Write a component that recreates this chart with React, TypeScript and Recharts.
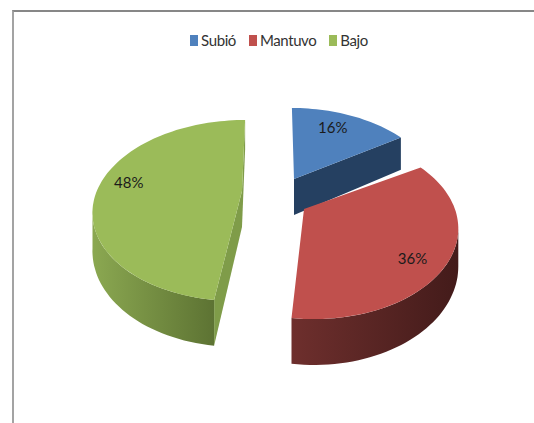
import React from "react";
import { PieChart, Pie, Legend } from "recharts";

const categories = ["Subió", "Mantuvo", "Bajo"];
const values = [16, 36, 48];
const colors = ["#4F81BD", "#C0504D", "#9BBB59"];

// explosion and 3D look of every slice, relative to the pie centre
const sliceLook = [
    { dx: 23, dy: -12, scaleX: 0.94, shear: 0.03, apexDx: 0, side: "#254061", wall: ["#254061", "#254061"], faces: ["end"], labelDx: -6, labelDy: -1 },
    { dx: 43, dy: 18, scaleX: 0.927, shear: 0, apexDx: -10, side: "#4a1f1e", wall: ["#6e2f2d", "#431b1a"], faces: [], labelDx: -2, labelDy: 10 },
    { dx: -29, dy: 0, scaleX: 0.955, shear: -0.044, apexDx: 0, side: "#7f9c49", wall: ["#8ba851", "#5d7333"], faces: ["start", "end"], labelDx: -3, labelDy: -5 },
];

const chartData = categories.map((name, i) => ({ name, value: values[i], fill: colors[i] }));

const PERSPECTIVE = 0.2157;
const Y_RATIO = 0.568;
const DEPTH = 36;

// theta is clockwise from the top, in degrees
const project = (cx: number, cy: number, radius: number, look: any, theta: number, r = 1) => {
    const rad = (theta * Math.PI) / 180;
    const u = Math.sin(rad) * r;
    const v = Math.cos(rad) * r;
    const den = 1 + PERSPECTIVE * v;
    const y = (radius * Y_RATIO * -v) / den;
    return {
        x: cx + look.dx + (radius * look.scaleX * u) / den + look.shear * y,
        y: cy + look.dy + y,
        d: DEPTH / den,
    };
};

const arcPoints = (cx: number, cy: number, radius: number, look: any, from: number, to: number) => {
    const pts = [];
    const steps = Math.max(2, Math.ceil(Math.abs(to - from) / 2));
    for (let i = 0; i <= steps; i++) {
        pts.push(project(cx, cy, radius, look, from + ((to - from) * i) / steps));
    }
    return pts;
};

const toPath = (pts: { x: number; y: number }[]) =>
    "M" + pts.map((p) => `${p.x.toFixed(1)},${p.y.toFixed(1)}`).join("L") + "Z";

const Slice3D = (props: any) => {
    const { cx, cy, outerRadius, startAngle, endAngle, fill, name } = props;
    const i = categories.indexOf(name);
    const look = sliceLook[i];
    const from = 90 - startAngle;
    const to = 90 - endAngle;

    const apex = { x: cx + look.dx + look.apexDx, y: cy + look.dy, d: DEPTH };
    const arc = arcPoints(cx, cy, outerRadius, look, from, to);

    // outer wall only between the two side extremes of the ellipse
    const wallFrom = Math.max(from, 102.5);
    const wallTo = Math.min(to, 257.5);
    const wallArc = wallTo > wallFrom ? arcPoints(cx, cy, outerRadius, look, wallFrom, wallTo) : [];
    const wallPath = wallArc.length
        ? toPath([...wallArc, ...wallArc.slice().reverse().map((p) => ({ x: p.x, y: p.y + p.d }))])
        : null;
    const xs = wallArc.map((p) => p.x);
    const gradId = `wall-${i}`;

    const cutFace = (p: { x: number; y: number; d: number }) =>
        toPath([apex, p, { x: p.x, y: p.y + p.d }, { x: apex.x, y: apex.y + apex.d }]);

    return (
        <g>
            {wallPath && (
                <defs>
                    <linearGradient id={gradId} gradientUnits="userSpaceOnUse"
                        x1={Math.min(...xs)} y1={0} x2={Math.max(...xs)} y2={0}>
                        <stop offset="0%" stopColor={look.wall[0]} />
                        <stop offset="100%" stopColor={look.wall[1]} />
                    </linearGradient>
                </defs>
            )}
            {look.faces.includes("start") && <path d={cutFace(arc[0])} fill={look.side} />}
            {look.faces.includes("end") && <path d={cutFace(arc[arc.length - 1])} fill={look.side} />}
            {wallPath && <path d={wallPath} fill={`url(#${gradId})`} />}
            <path d={toPath([apex, ...arc])} fill={fill} />
        </g>
    );
};

const renderLabel = (props: any) => {
    const { cx, cy, outerRadius, midAngle, percent, name } = props;
    const look = sliceLook[categories.indexOf(name)];
    const p = project(cx, cy, outerRadius, look, 90 - midAngle, 0.77);
    return (
        <text x={p.x + look.labelDx} y={p.y + look.labelDy} textAnchor="middle" dominantBaseline="central"
            fontFamily="Lato" fontSize={15} fill="#1b1b1b">
            {`${Math.round(percent * 100)}%`}
        </text>
    );
};

const renderLegend = (props: any) => (
    <div style={{ display: "flex", justifyContent: "center", fontFamily: "Lato", fontSize: 15, letterSpacing: -0.4, color: "#333", lineHeight: "20px" }}>
        {(props.payload || []).map((item: any) => (
            <span key={item.value} style={{ display: "flex", alignItems: "center", marginLeft: 6.5, marginRight: 6.5 }}>
                <span style={{ width: 8, height: 11, background: item.color, marginRight: 3 }} />
                {item.value}
            </span>
        ))}
    </div>
);

export default function App() {
    return (
        <div style={{ position: "absolute", left: 0, top: 0, width: 534, height: 423, background: "#fff", overflow: "hidden" }}>
            <div style={{ position: "absolute", left: 12, top: 10, right: 0, bottom: 0, borderTop: "2px solid #878787", borderLeft: "2px solid #a3a3a3" }} />
            <PieChart width={534} height={423} style={{ position: "absolute", left: 0, top: 0 }}>
                <Legend verticalAlign="top" content={renderLegend} itemSorter={null}
                    wrapperStyle={{ top: 30, left: 12, width: 534 }} />
                <Pie data={chartData} dataKey="value" nameKey="name" cx={266} cy={166}
                    outerRadius={152} startAngle={90} endAngle={-270} stroke="none"
                    shape={Slice3D} label={renderLabel} labelLine={false} isAnimationActive={false} />
            </PieChart>
        </div>
    );
}
